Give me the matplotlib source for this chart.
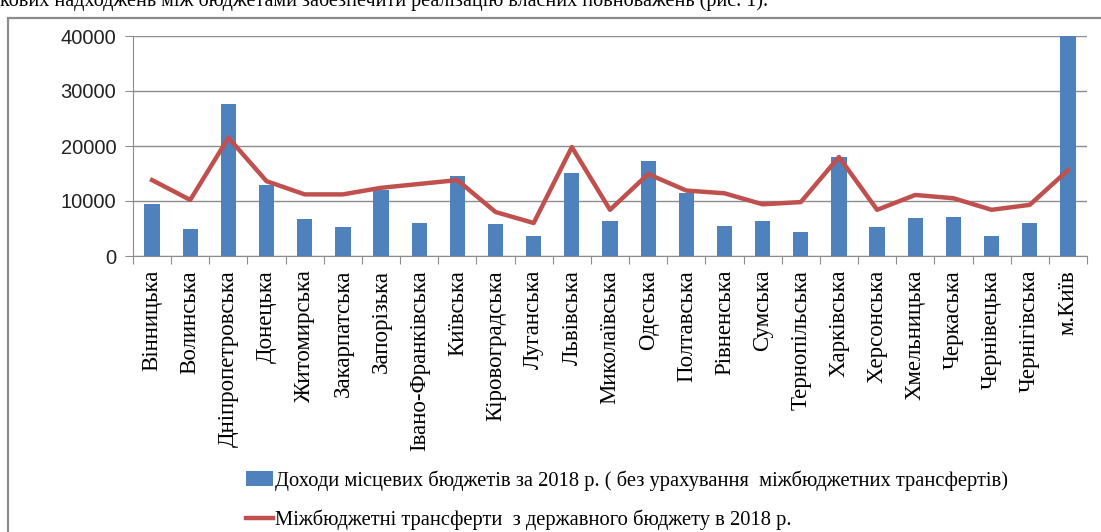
import matplotlib
matplotlib.use("Agg")
import numpy as np
from matplotlib import pyplot as plt
from matplotlib.patches import Rectangle

# області України
regions = ["Вінницька", "Волинська", "Дніпропетровська", "Донецька", "Житомирська",
           "Закарпатська", "Запорізька", "Івано-Франківська", "Київська", "Кіровоградська",
           "Луганська", "Львівська", "Миколаївська", "Одеська", "Полтавська",
           "Рівненська", "Сумська", "Тернопільська", "Харківська", "Херсонська",
           "Хмельницька", "Черкаська", "Чернівецька", "Чернігівська", "м.Київ"]

# доходи місцевих бюджетів (без трансфертів)
incomes = [9400, 5000, 27600, 12900, 6700, 5300, 12000, 6000, 14500, 5800,
           3600, 15100, 6400, 17300, 11500, 5500, 6400, 4400, 18000, 5300,
           6900, 7100, 3600, 6000, 40000]

# міжбюджетні трансферти
transfers = [13800, 10200, 21500, 13600, 11200, 11200, 12400, 13100, 13800, 8000,
             6000, 19800, 8400, 14900, 11900, 11400, 9400, 9800, 18000, 8400,
             11100, 10500, 8400, 9300, 15600]

yticks = [0, 10000, 20000, 30000, 40000]

label_bars = "Доходи місцевих бюджетів за 2018 р. ( без урахування  міжбюджетних трансфертів)"
label_line = "Міжбюджетні трансферти  з державного бюджету в 2018 р."
top_text = "кових надходжень між бюджетами забезпечити реалізацію власних повноважень (рис. 1)."

W, H = 1101, 532
fig = plt.figure(figsize=(W / 100, H / 100), dpi=100)

# рамка діаграми
fig.patches.append(Rectangle((8 / W, -0.05), 1.1, 1 - 18 / H + 0.05, transform=fig.transFigure,
                             fill=False, edgecolor="#8c8c8c", linewidth=1.6))
fig.text(0.0, 1 - 6 / H, top_text, family="Liberation Serif", fontsize=14.5,
         va="baseline", ha="left", color="black")

ax = fig.add_axes([133 / W, 1 - 256 / H, (1087 - 133) / W, (256 - 36) / H])
x = np.arange(len(regions))
bars = ax.bar(x, incomes, width=0.4, color="#4F81BD", zorder=2)
line, = ax.plot(x, transfers, color="#C0504D", linewidth=3.2, solid_joinstyle="round",
                zorder=3)

ax.set_xlim(-0.5, len(regions) - 0.5)
ax.set_ylim(0, 40000)
ax.set_yticks(yticks)
ax.set_yticklabels([str(v) for v in yticks], family="Liberation Sans", fontsize=14.5,
                   color="#222222")
ax.yaxis.grid(True, color="#8c8c8c", linewidth=1.0, zorder=0)
ax.set_axisbelow(True)

ax.set_xticks(np.arange(len(regions) + 1) - 0.5)
ax.set_xticklabels([])
ax.set_xticks(x, minor=True)
ax.set_xticklabels(regions, minor=True, rotation=90, family="Liberation Serif",
                   fontsize=16.5, va="top")
ax.tick_params(axis="x", which="minor", length=0, pad=10)
ax.tick_params(axis="x", which="major", length=6, color="#8c8c8c")
ax.tick_params(axis="y", length=6, color="#8c8c8c", pad=6)

for side in ["top", "right"]:
    ax.spines[side].set_visible(False)
ax.spines["left"].set_color("#8c8c8c")
ax.spines["bottom"].set_color("#8c8c8c")

fig.legend([bars, line], [label_bars, label_line], loc="upper left",
           bbox_to_anchor=(238 / W, 1 - 462 / H), frameon=False,
           prop={"family": "Liberation Serif", "size": 14.8}, handlelength=1.3,
           handletextpad=0.1, labelspacing=0.9, borderaxespad=0)

fig.savefig("out.png", dpi=100)
